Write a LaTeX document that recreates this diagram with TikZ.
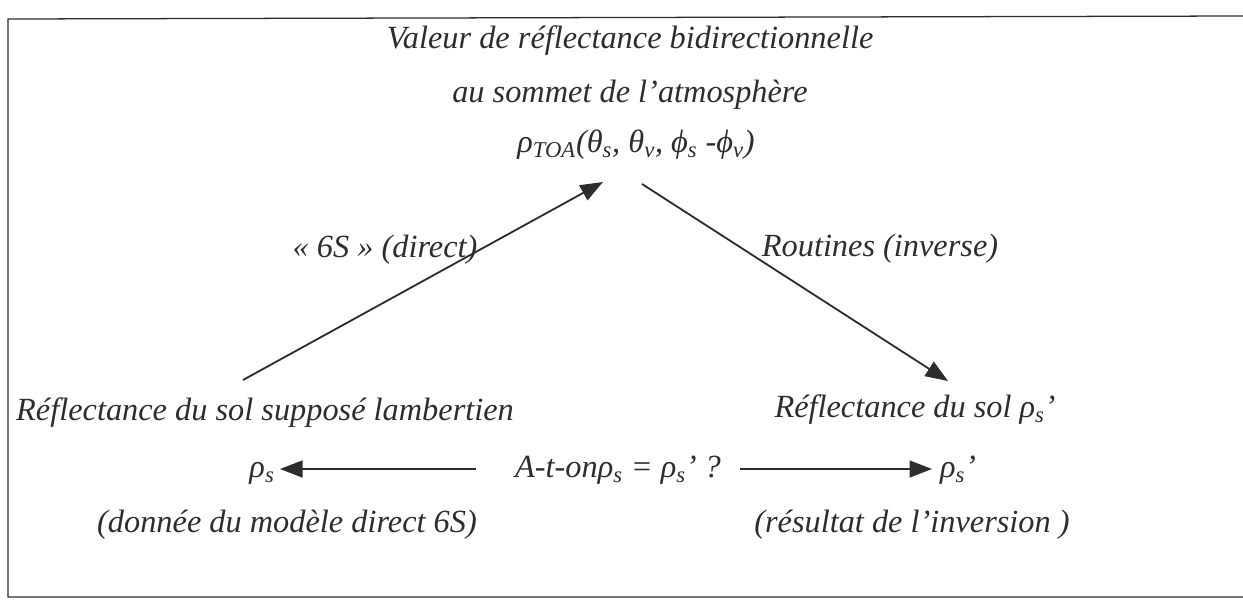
\documentclass[tikz,border=0pt]{standalone}
\usepackage{fontspec}
\setmainfont{Liberation Serif}
\usetikzlibrary{arrows.meta,positioning}
\definecolor{inkgray}{RGB}{45,45,45}
\newcommand{\sbs}[1]{\textsubscript{#1}}

\begin{document}
\begin{tikzpicture}[x=0.025cm, y=-0.025cm,
    every node/.style={font=\itshape\fontsize{23}{28}\selectfont, text=inkgray, inner sep=1pt, anchor=base},
    flow/.style={-{Triangle[length=16pt,width=12pt]}, line width=1.3pt, draw=inkgray}]
  \useasboundingbox (0,0) rectangle (1243,600);
  % cadre
  \draw[line width=0.9pt, inkgray] (1243,16) -- (8,19) -- (8,597) -- (1243,597);
  % sommet
  \node (titre1) at (630,48) {Valeur de réflectance bidirectionnelle};
  \node (titre2) at (630,102) {au sommet de l’atmosphère};
  \node (toa) at (636,152) {ρ\sbs{TOA}(θ\sbs{s}, θ\sbs{v}, ϕ\sbs{s} -ϕ\sbs{v})};
  % sol
  \node (sol) at (265,420) {Réflectance du sol supposé lambertien};
  \node (solinv) at (915,417) {Réflectance du sol ρ\sbs{s}’};
  \node (rhos) at (262,477) {ρ\sbs{s}};
  \node (rhosp) at (958,477) {ρ\sbs{s}’};
  \node (test) at (618,477) {A-t-onρ\sbs{s} = ρ\sbs{s}’ ?};
  \node (donnee) at (287,532) {(donnée du modèle direct 6S)};
  \node (resultat) at (912,532) {(résultat de l’inversion )};
  % fleches
  \coordinate (dirA) at (243,380);
  \coordinate (dirB) at (603,182);
  \coordinate (invA) at (642,184);
  \coordinate (invB) at (948,381);
  \draw[flow] (dirA) -- (dirB);
  \draw[flow] (invA) -- (invB);
  \node (direct) at (385,257) {« 6S » (direct)};
  \node (routines) at (880,256) {Routines (inverse)};
  \coordinate (gA) at (476,469);
  \coordinate (gB) at (280,469);
  \coordinate (dA) at (740,469);
  \coordinate (dB) at (932,469);
  \draw[flow] (gA) -- (gB);
  \draw[flow] (dA) -- (dB);
\end{tikzpicture}
\end{document}
